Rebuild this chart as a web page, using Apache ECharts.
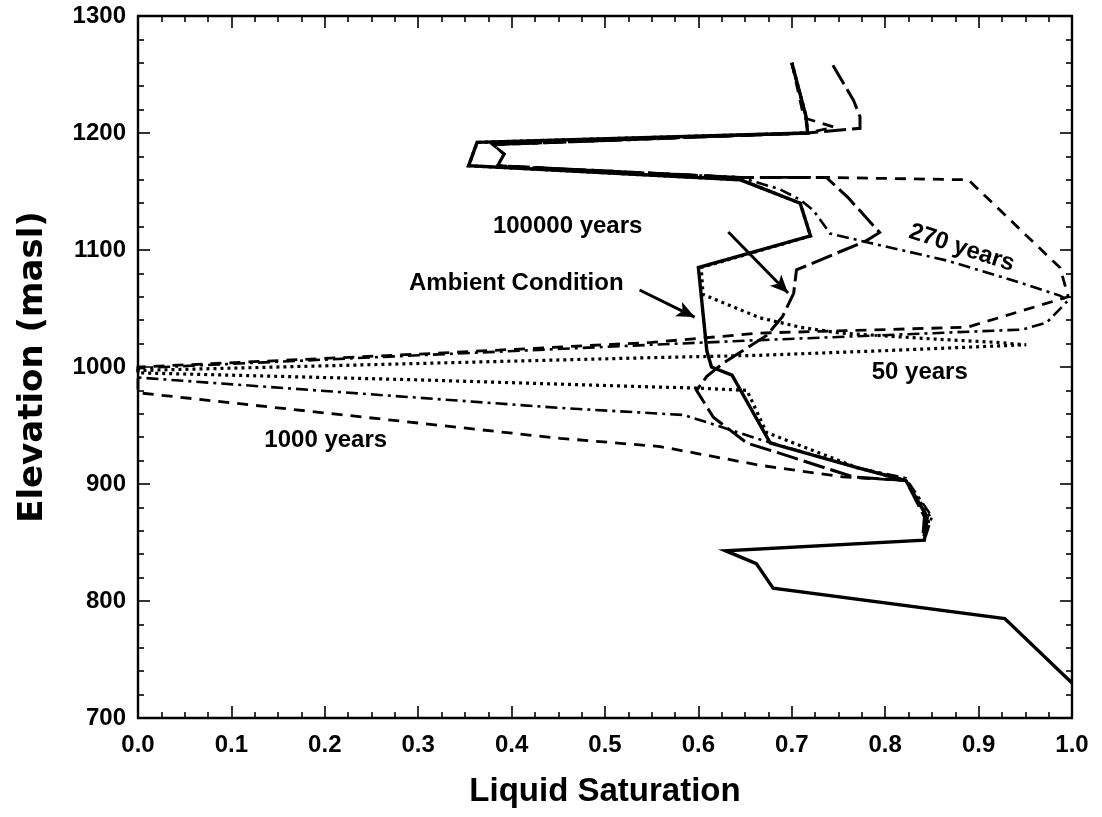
<!DOCTYPE html>
<html>
<head>
<meta charset="utf-8">
<script src="https://cdn.jsdelivr.net/npm/echarts@6/dist/echarts.min.js"></script>
<style>
  html, body { margin: 0; padding: 0; background: #fff; }
  #chart { width: 1102px; height: 817px; }
</style>
</head>
<body>
<div id="chart"></div>
<script>
// Liquid saturation profiles, each point is [saturation, elevation (masl)]
const ambient = [
  [0.700,1260],[0.715,1215],[0.717,1200],[0.363,1192],[0.354,1172],[0.645,1160],
  [0.709,1140],[0.720,1112],[0.600,1085],[0.609,1014],[0.614,1000],[0.636,993],
  [0.677,935],[0.770,914],[0.822,903],[0.845,872],[0.842,852],[0.629,843],
  [0.662,832],[0.680,811],[0.928,785],[1.000,730]
];
const years50 = [
  [0.700,1260],[0.715,1215],[0.717,1200],[0.363,1192],[0.354,1172],[0.645,1160],
  [0.709,1140],[0.720,1112],[0.603,1085],[0.605,1062],[0.666,1042],[0.709,1034],
  [0.752,1029],[0.850,1024],[0.920,1021],[0.951,1019],[0.800,1014],[0.666,1010],
  [0.550,1008],[0.300,1003],[0.000,997],[0.000,995],[0.300,989],[0.550,983],
  [0.598,982],[0.652,980],[0.673,944],[0.770,914],[0.822,903],[0.848,872],[0.840,852]
];
const years270 = [
  [0.700,1260],[0.715,1215],[0.717,1200],[0.380,1190],[0.392,1182],[0.385,1172],
  [0.645,1162],[0.687,1152],[0.709,1143],[0.723,1134],[0.741,1114],[0.784,1106],
  [0.866,1091],[0.937,1074],[0.987,1061],[0.996,1057],[0.973,1038],[0.947,1032],
  [0.666,1023],[0.550,1019],[0.300,1010],[0.000,999],[0.000,991],[0.452,965],
  [0.584,959],[0.612,952],[0.666,938],[0.770,914],[0.822,905],[0.850,872],[0.842,852]
];
const years1000 = [
  [0.700,1260],[0.713,1213],[0.745,1205],[0.717,1200],[0.380,1190],[0.392,1182],
  [0.385,1172],[0.645,1162],[0.737,1162],[0.889,1160],[0.987,1085],[0.990,1077],
  [0.996,1060],[0.888,1034],[0.666,1029],[0.550,1021],[0.300,1011],[0.000,1000],
  [0.000,978],[0.452,939],[0.559,932],[0.666,916],[0.755,906],[0.822,903],
  [0.845,872],[0.840,852]
];
const years100000 = [
  [0.744,1258],[0.755,1243],[0.766,1228],[0.773,1214],[0.773,1204],[0.717,1200],
  [0.380,1190],[0.392,1182],[0.385,1172],[0.645,1162],[0.737,1162],[0.760,1145],
  [0.794,1115],[0.780,1108],[0.705,1083],[0.702,1063],[0.690,1043],[0.673,1027],
  [0.626,1003],[0.609,992],[0.598,980],[0.616,957],[0.652,935],[0.684,927],
  [0.766,906],[0.822,903],[0.842,872],[0.840,852]
];

// Axis ticks
const xTicks = ['0.0','0.1','0.2','0.3','0.4','0.5','0.6','0.7','0.8','0.9','1.0'];
const yTicks = ['700','800','900','1000','1100','1200','1300'];

// Curve annotations: [saturation, elevation, text, rotation]
const notes = [
  [0.460, 1120.5, '100000 years', 0],
  [0.405, 1071.8, 'Ambient Condition', 0],
  [0.882, 1101.7, '270 years', -18],
  [0.837, 995.7, '50 years', 0],
  [0.201, 937.6, '1000 years', 0]
];
// Pointer arrows: [fromSat, fromElev, toSat, toElev]
const pointers = [
  [0.632, 1115.4, 0.696, 1063.2],
  [0.537, 1065.8, 0.596, 1042.7]
];

const INK = '#000';
const BOLD = 'Liberation Sans';

function axisBase(extra) {
  return Object.assign({
    type: 'value',
    axisLine: { show: true, onZero: false, lineStyle: { color: INK, width: 2.4 } },
    axisTick: { show: true, inside: true, length: 12, lineStyle: { color: INK, width: 1.6 } },
    splitLine: { show: false },
    minorSplitLine: { show: false }
  }, extra);
}

const tickLabel = {
  color: INK, fontFamily: BOLD, fontWeight: 'bold', fontSize: 24
};

function seriesLine(name, data, type, width) {
  return {
    name, type: 'line', data, xAxisIndex: 0, yAxisIndex: 0,
    symbol: 'none', animation: false, silent: true,
    lineStyle: { color: INK, width: width || 2.6, type: type, cap: 'butt', join: 'miter' }
  };
}

const xMinor = { show: true, splitNumber: 4, length: 6, lineStyle: { color: INK, width: 1.6 } };
const yMinor = { show: true, splitNumber: 5, length: 6, lineStyle: { color: INK, width: 1.6 } };

const option = {
  backgroundColor: '#fff',
  animation: false,
  grid: { left: 138, top: 16, width: 934, height: 702, containLabel: false },
  xAxis: [
    axisBase({
      position: 'bottom', min: 0, max: 1, interval: 0.1, minorTick: xMinor,
      axisLabel: Object.assign({ margin: 15, formatter: (v) => xTicks[Math.round(v * 10)] }, tickLabel),
      name: 'Liquid Saturation', nameLocation: 'middle', nameGap: 57,
      nameTextStyle: { color: INK, fontFamily: BOLD, fontWeight: 'bold', fontSize: 33 }
    }),
    axisBase({
      position: 'top', min: 0, max: 1, interval: 0.1, minorTick: xMinor,
      axisLabel: { show: false }
    })
  ],
  yAxis: [
    axisBase({
      position: 'left', min: 700, max: 1300, interval: 100, minorTick: yMinor,
      axisLabel: Object.assign({ margin: 12, padding: [12, 0, 0, 0], formatter: (v) => yTicks[Math.round((v - 700) / 100)] }, tickLabel),
      name: 'Elevation (masl)', nameLocation: 'middle', nameGap: 88, nameRotate: 90,
      nameTextStyle: { color: INK, fontFamily: 'DejaVu Sans', fontWeight: 'bold', fontSize: 34 }
    }),
    axisBase({
      position: 'right', min: 700, max: 1300, interval: 100, minorTick: yMinor,
      axisLabel: { show: false }
    })
  ],
  series: [
    seriesLine('1000 years', years1000, [11, 8], 2.8),
    seriesLine('100000 years', years100000, [22, 6], 3),
    seriesLine('270 years', years270, [12, 5, 3, 5], 2.6),
    seriesLine('50 years', years50, [3, 4], 3.2),
    seriesLine('Ambient Condition', ambient, 'solid', 3.4),
    {
      name: 'notes', type: 'scatter', xAxisIndex: 0, yAxisIndex: 0,
      symbolSize: 0, silent: true, animation: false,
      itemStyle: { color: INK },
      data: notes.map(n => ({
        value: [n[0], n[1]],
        label: {
          show: true, position: 'inside', formatter: n[2], rotate: n[3],
          color: INK, opacity: 1, textBorderWidth: 0, textBorderColor: 'transparent',
          fontFamily: BOLD, fontWeight: 'bold', fontSize: 24
        }
      })),
      markLine: {
        silent: true, animation: false,
        symbol: ['none', 'arrow'], symbolSize: [12, 18],
        label: { show: false },
        lineStyle: { color: INK, width: 3, type: 'solid' },
        data: pointers.map(p => [{ coord: [p[0], p[1]] }, { coord: [p[2], p[3]] }])
      }
    }
  ]
};

const chart = echarts.init(document.getElementById('chart'), null, { renderer: 'canvas' });
chart.setOption(option);
</script>
</body>
</html>
